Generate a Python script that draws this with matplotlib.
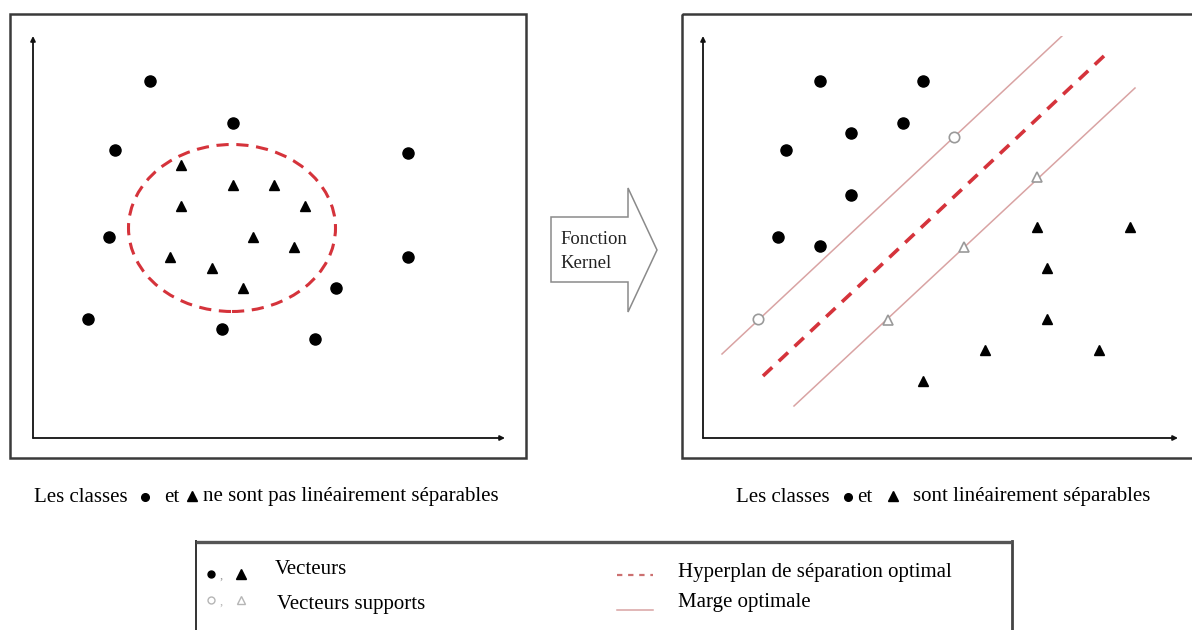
import matplotlib
matplotlib.use("Agg")
import matplotlib.pyplot as plt
from matplotlib.patches import Rectangle, Polygon, Ellipse

RED = "#d5333b"
PINK = "#d9a3a3"
GRAY = "#9a9a9a"
SERIF = ["Liberation Serif", "DejaVu Serif"]
FS = 15

# left panel: non separable classes
left_circ_x = [117, 200, 82, 375, 76, 375, 303, 55, 189, 282]
left_circ_y = [357, 315, 288, 285, 201, 181, 150, 119, 109, 99]
left_tri_x = [148, 200, 241, 148, 272, 220, 261, 137, 179, 210]
left_tri_y = [273, 253, 253, 232, 232, 201, 191, 181, 170, 150]
ellipse_center = (199, 210)
ellipse_size = (207, 167)

# right panel: separable classes
right_circ_x = [117, 220, 148, 200, 83, 148, 75, 117]
right_circ_y = [357, 357, 305, 315, 288, 243, 201, 192]
support_circ_x = [251, 55]
support_circ_y = [301, 119]
support_tri_x = [334, 261, 185]
support_tri_y = [261, 191, 118]
right_tri_x = [334, 427, 344, 344, 282, 396, 220]
right_tri_y = [211, 211, 170, 119, 88, 88, 57]
upper_margin = ([19, 359], [84, 402])
hyperplane = ([60, 402], [62, 383])
lower_margin = ([91, 432], [32, 350])

W, H = 1192, 630
fig = plt.figure(figsize=(W / 100, H / 100), dpi=100)

# overlay axes in pixel coordinates for frames, arrow and texts
bg = fig.add_axes([0, 0, 1, 1])
bg.set_xlim(0, W)
bg.set_ylim(H, 0)
bg.axis("off")


def panel(x0, x1, y0, y1):
    ax = fig.add_axes([x0 / W, 1 - y1 / H, (x1 - x0) / W, (y1 - y0) / H])
    ax.set_xlim(0, x1 - x0)
    ax.set_ylim(0, y1 - y0)
    ax.axis("off")
    for end in [(x1 - x0, 0), (0, y1 - y0)]:
        ax.annotate("", xy=end, xytext=(0, 0),
                    arrowprops=dict(arrowstyle="-|>", lw=1.3, color="#111",
                                    mutation_scale=7, shrinkA=0, shrinkB=0))
    return ax


# frames (the right one runs past the image edge)
bg.add_patch(Rectangle((10, 14), 516, 444, fill=False, ec="#3a3a3a", lw=1.8))
bg.add_patch(Rectangle((682, 14), 540, 444, fill=False, ec="#3a3a3a", lw=1.8, clip_on=True))

axL = panel(33, 505, 36, 438)
axL.plot(left_circ_x, left_circ_y, "o", ms=8, color="k", ls="none")
axL.plot(left_tri_x, left_tri_y, "^", ms=7.5, color="k", ls="none")
axL.add_patch(Ellipse(ellipse_center, *ellipse_size, fill=False, ec=RED, lw=2.2,
                      ls=(0, (4, 2.5))))

axR = panel(703, 1178, 36, 438)
axR.plot(*upper_margin, color=PINK, lw=1.1)
axR.plot(*lower_margin, color=PINK, lw=1.1)
axR.plot(*hyperplane, color=RED, lw=2.6, ls=(0, (3.5, 2.5)))
axR.plot(right_circ_x, right_circ_y, "o", ms=8, color="k", ls="none")
axR.plot(right_tri_x, right_tri_y, "^", ms=7.5, color="k", ls="none")
axR.plot(support_circ_x, support_circ_y, "o", ms=7.5, mfc="white", mec=GRAY, mew=1.2, ls="none")
axR.plot(support_tri_x, support_tri_y, "^", ms=7.5, mfc="white", mec=GRAY, mew=1.2, ls="none")

# kernel arrow
bg.add_patch(Polygon([(551, 217), (628, 217), (628, 188), (657, 250), (628, 312),
                      (628, 282), (551, 282)], closed=True, fill=False, ec="#8a8a8a", lw=1.1))
bg.text(560, 239, "Fonction", ha="left", va="center", fontsize=13.5, family=SERIF, color="#222")
bg.text(560, 263, "Kernel", ha="left", va="center", fontsize=13.5, family=SERIF, color="#222")

# captions
bg.text(34, 497, "Les classes", ha="left", va="center", fontsize=FS, family=SERIF)
bg.plot([145], [497], "o", ms=5.5, color="k")
bg.text(164, 497, "et", ha="left", va="center", fontsize=FS, family=SERIF)
bg.plot([192], [496], "^", ms=6.5, color="k")
bg.text(203, 497, "ne sont pas linéairement séparables", ha="left", va="center",
        fontsize=FS, family=SERIF)

bg.text(736, 497, "Les classes", ha="left", va="center", fontsize=FS, family=SERIF)
bg.plot([848], [497], "o", ms=5.5, color="k")
bg.text(857, 497, "et", ha="left", va="center", fontsize=FS, family=SERIF)
bg.plot([893], [496], "^", ms=6.5, color="k")
bg.text(913, 497, "sont linéairement séparables", ha="left", va="center",
        fontsize=FS, family=SERIF)

# legend frame (bottom cut by the image edge)
bg.plot([196, 196], [541, 640], color="#333", lw=1.4, clip_on=True)
bg.plot([1012, 1012], [541, 640], color="#444", lw=2.0, clip_on=True)
bg.plot([196, 1012], [542, 542], color="#555", lw=2.4, solid_capstyle="butt")

bg.plot([211], [574], "o", ms=5, color="k")
bg.text(220, 576, ",", ha="left", va="center", fontsize=9, family=SERIF, color=GRAY)
bg.plot([241], [574], "^", ms=6.5, color="k")
bg.text(275, 570, "Vecteurs", ha="left", va="center", fontsize=FS, family=SERIF)

bg.plot([211], [600], "o", ms=5, mfc="white", mec="#b5b5b5", mew=1)
bg.text(220, 602, ",", ha="left", va="center", fontsize=9, family=SERIF, color="#b5b5b5")
bg.plot([241], [600], "^", ms=6, mfc="white", mec="#b5b5b5", mew=1)
bg.text(277, 604, "Vecteurs supports", ha="left", va="center", fontsize=FS, family=SERIF)

bg.plot([617, 653], [575, 575], color="#cc7070", lw=1.6, ls=(0, (2.4, 2.6)))
bg.text(678, 572, "Hyperplan de séparation optimal", ha="left", va="center",
        fontsize=FS, family=SERIF)
bg.plot([617, 653], [610, 610], color=PINK, lw=1.1)
bg.text(678, 603, "Marge optimale", ha="left", va="center", fontsize=FS, family=SERIF)

fig.savefig("out.png", dpi=100, facecolor="white")
